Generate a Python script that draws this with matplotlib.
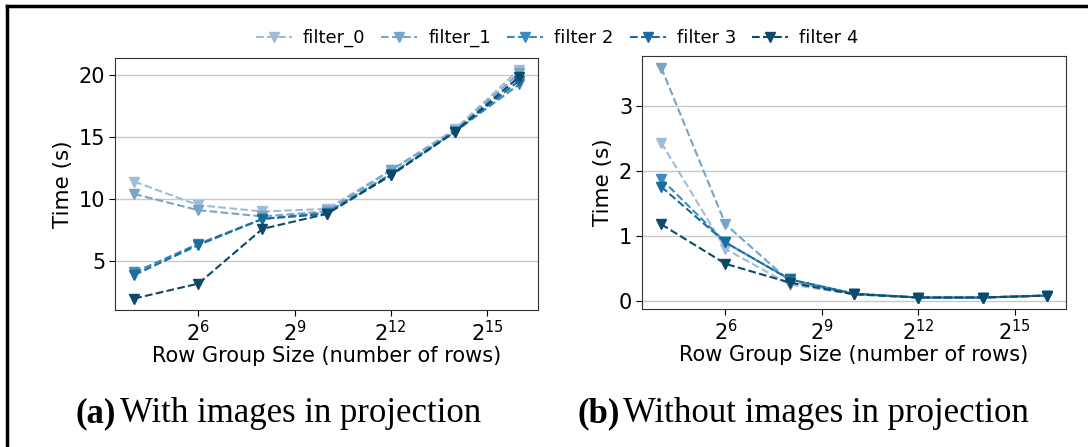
import matplotlib
matplotlib.use("Agg")
import matplotlib.pyplot as plt
from matplotlib.lines import Line2D

# row group sizes (number of rows)
row_groups = [2**4, 2**6, 2**8, 2**10, 2**12, 2**14, 2**16]
labels = ["filter_0", "filter_1", "filter 2", "filter 3", "filter 4"]
colors = ["#a3bcd6", "#76a5c9", "#3a8cc0", "#1b6b9c", "#0c4a6a"]

# (a) with images in projection
with_images = [
    [11.4, 9.5, 9.0, 9.2, 12.3, 15.6, 20.4],
    [10.4, 9.1, 8.6, 9.0, 12.3, 15.5, 20.1],
    [4.1, 6.4, 8.4, 8.9, 12.0, 15.4, 19.2],
    [3.9, 6.3, 8.4, 8.8, 11.9, 15.4, 19.5],
    [2.0, 3.2, 7.6, 8.8, 11.9, 15.4, 19.8],
]
# (b) without images in projection
without_images = [
    [2.44, 0.80, 0.25, 0.10, 0.05, 0.05, 0.08],
    [3.60, 1.18, 0.30, 0.10, 0.05, 0.05, 0.08],
    [1.88, 0.90, 0.33, 0.11, 0.05, 0.05, 0.08],
    [1.76, 0.90, 0.33, 0.11, 0.05, 0.05, 0.08],
    [1.18, 0.57, 0.28, 0.10, 0.05, 0.05, 0.08],
]

fig = plt.figure(figsize=(10.88, 4.47), dpi=100)
ax1 = fig.add_axes([0.1057, 0.3065, 0.389, 0.5635])
ax2 = fig.add_axes([0.590, 0.3087, 0.390, 0.566])

for ax, data in [(ax1, with_images), (ax2, without_images)]:
    for vals, lab, col in zip(data, labels, colors):
        ax.plot(row_groups, vals, linestyle="--", marker="v", color=col,
                markersize=7.5, linewidth=1.5, label=lab)
    ax.set_xscale("log", base=2)
    ax.set_xticks([2**6, 2**9, 2**12, 2**15])
    ax.minorticks_off()
    ax.yaxis.grid(True, color="#c8c8c8", linewidth=1)
    ax.set_axisbelow(True)
    for s in ax.spines.values():
        s.set_color("#333333")
    ax.tick_params(labelsize=15, length=4, pad=3)
    ax.set_xlabel("Row Group Size (number of rows)", fontsize=15, labelpad=1)
    ax.set_ylabel("Time (s)", fontsize=15.5, labelpad=4)

ax1.set_yticks([5, 10, 15, 20])
ax2.set_yticks([0, 1, 2, 3])

handles, labs = ax1.get_legend_handles_labels()
fig.legend(handles, labs, loc="center", bbox_to_anchor=(0.512, 0.915), ncol=5,
           frameon=False, fontsize=13, handlelength=2.0, columnspacing=0.9,
           handletextpad=0.6)

cap_font = ["Liberation Serif", "DejaVu Serif"]
fig.text(0.069, 0.074, "(a)", fontsize=25, fontweight="bold", family=cap_font, va="center")
fig.text(0.110, 0.074, "With images in projection", fontsize=25, family=cap_font, va="center")
fig.text(0.531, 0.074, "(b)", fontsize=25, fontweight="bold", family=cap_font, va="center")
fig.text(0.573, 0.074, "Without images in projection", fontsize=25, family=cap_font, va="center")

# page frame (top and left edges)
fig.add_artist(Line2D([0.0065, 1.0], [0.987, 0.987], color="black", linewidth=2.5))
fig.add_artist(Line2D([0.0065, 0.0065], [0.0, 0.987], color="black", linewidth=2.5))

fig.savefig("out.png", dpi=100)
